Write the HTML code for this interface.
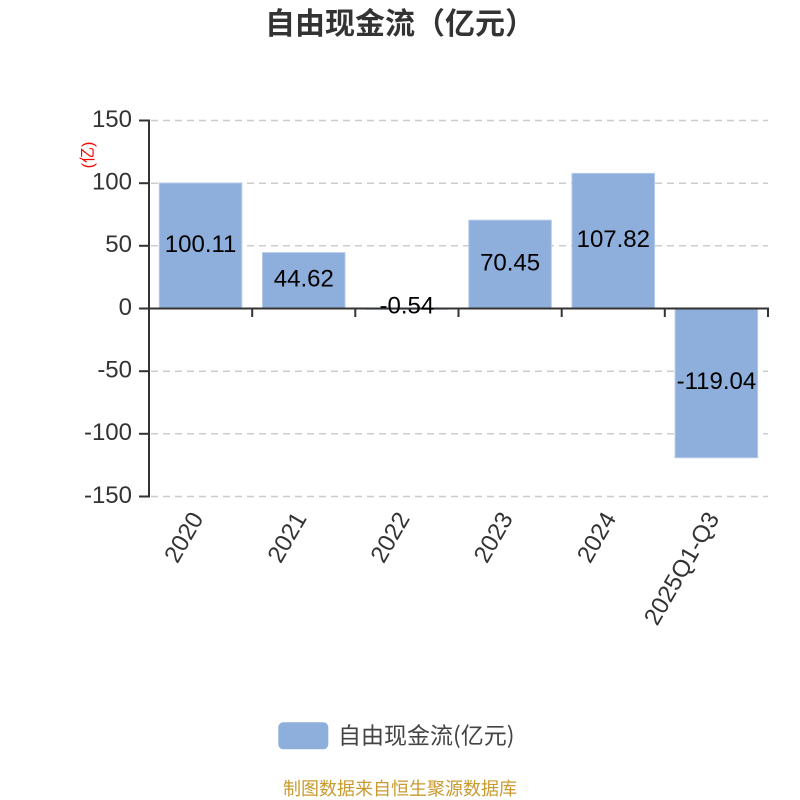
<!DOCTYPE html>
<html>
<head>
<meta charset="utf-8">
<style>
  html,body{margin:0;padding:0;background:#fff;}
  svg{display:block;}
  text{font-family:"Liberation Sans","Noto Sans CJK SC",sans-serif;}
</style>
</head>
<body>
<svg width="800" height="800" viewBox="0 0 800 800" xmlns="http://www.w3.org/2000/svg">
  <rect width="800" height="800" fill="#fff"/>
  <!-- Title -->
  <text x="265" y="34" font-size="30" font-weight="bold" fill="#333" style="font-family:'Noto Sans CJK SC','WenQuanYi Zen Hei',sans-serif;">自由现金流（亿元）</text>

  <!-- Grid lines -->
  <g stroke="#cccccc" stroke-width="1.5" stroke-dasharray="7,5" fill="none">
    <line x1="151" y1="120.5" x2="768" y2="120.5"/>
    <line x1="151" y1="183.2" x2="768" y2="183.2"/>
    <line x1="151" y1="245.8" x2="768" y2="245.8"/>
    <line x1="151" y1="371.2" x2="768" y2="371.2"/>
    <line x1="151" y1="433.8" x2="768" y2="433.8"/>
    <line x1="151" y1="496.5" x2="768" y2="496.5"/>
  </g>

  <!-- Bars -->
  <g fill="#8eaedb" stroke="#b4c9e9" stroke-width="1">
    <rect x="159.3" y="183.0" width="82.5" height="125.5"/>
    <rect x="262.5" y="252.6" width="82.5" height="55.9"/>
    <rect x="365.6" y="308.5" width="82.5" height="0.8"/>
    <rect x="468.8" y="220.2" width="82.5" height="88.3"/>
    <rect x="572.0" y="173.4" width="82.5" height="135.1"/>
    <rect x="675.1" y="308.5" width="82.5" height="149.2"/>
  </g>

  <!-- Axes -->
  <g stroke="#333" stroke-width="2" fill="none">
    <line x1="149" y1="119.5" x2="149" y2="497.5"/>
    <line x1="148" y1="308.5" x2="769" y2="308.5"/>
    <!-- y ticks -->
    <line x1="139" y1="120.5" x2="149" y2="120.5"/>
    <line x1="139" y1="183.2" x2="149" y2="183.2"/>
    <line x1="139" y1="245.8" x2="149" y2="245.8"/>
    <line x1="139" y1="308.5" x2="149" y2="308.5"/>
    <line x1="139" y1="371.2" x2="149" y2="371.2"/>
    <line x1="139" y1="433.8" x2="149" y2="433.8"/>
    <line x1="139" y1="496.5" x2="149" y2="496.5"/>
    <!-- x ticks -->
    <line x1="252.2" y1="308.5" x2="252.2" y2="317"/>
    <line x1="355.3" y1="308.5" x2="355.3" y2="317"/>
    <line x1="458.5" y1="308.5" x2="458.5" y2="317"/>
    <line x1="561.7" y1="308.5" x2="561.7" y2="317"/>
    <line x1="664.8" y1="308.5" x2="664.8" y2="317"/>
    <line x1="768" y1="308.5" x2="768" y2="317"/>
  </g>

  <!-- Y labels -->
  <g font-size="24" fill="#333" text-anchor="end">
    <text x="132" y="126.8">150</text>
    <text x="132" y="189.5">100</text>
    <text x="132" y="252.1">50</text>
    <text x="132" y="314.8">0</text>
    <text x="132" y="377.5">-50</text>
    <text x="132" y="440.1">-100</text>
    <text x="132" y="502.8">-150</text>
  </g>

  <!-- Unit label -->
  <text transform="translate(93,155) rotate(-90)" font-size="16" fill="#ff0000" text-anchor="middle" style="font-family:'Liberation Sans','Noto Sans CJK SC',sans-serif;">(亿)</text>

  <!-- Bar value labels -->
  <g font-size="24" fill="#000" text-anchor="middle">
    <text x="200.6" y="251.8">100.11</text>
    <text x="303.8" y="286.5">44.62</text>
    <text x="406.9" y="313.5">-0.54</text>
    <text x="510.1" y="270.4">70.45</text>
    <text x="613.3" y="246.9">107.82</text>
    <text x="716.4" y="389.2">-119.04</text>
  </g>

  <!-- X labels -->
  <g font-size="24" fill="#333" text-anchor="end">
    <text transform="translate(198.6,515) rotate(-60)" x="0" y="6.3">2020</text>
    <text transform="translate(301.8,515) rotate(-60)" x="0" y="6.3">2021</text>
    <text transform="translate(404.9,515) rotate(-60)" x="0" y="6.3">2022</text>
    <text transform="translate(508.1,515) rotate(-60)" x="0" y="6.3">2023</text>
    <text transform="translate(611.3,515) rotate(-60)" x="0" y="6.3">2024</text>
    <text transform="translate(714.4,515) rotate(-60)" x="0" y="6.3">2025Q1-Q3</text>
  </g>

  <!-- Legend -->
  <rect x="278.3" y="722.3" width="50" height="27" rx="5" ry="5" fill="#8eaedb"/>
  <text x="338" y="743.5" font-size="23" fill="#444" style="font-family:'Noto Sans CJK SC','WenQuanYi Zen Hei',sans-serif;">自由现金流(亿元)</text>

  <!-- Footer -->
  <text x="400" y="795" font-size="18" fill="#c99a2e" text-anchor="middle" style="font-family:'Noto Sans CJK SC','WenQuanYi Zen Hei',sans-serif;">制图数据来自恒生聚源数据库</text>
</svg>
</body>
</html>
